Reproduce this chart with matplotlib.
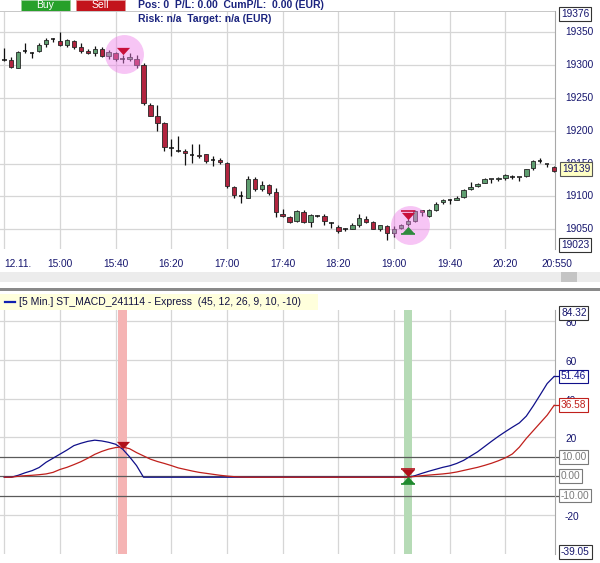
import matplotlib
matplotlib.use('Agg')
import matplotlib.pyplot as plt
from matplotlib.patches import Rectangle

# ---------------- data ----------------
opens  = [19309, 19308, 19296, 19320, 19319, 19321, 19332, 19339, 19336, 19330,
          19336, 19327, 19321, 19318, 19325, 19314, 19319, 19310, 19310, 19310,
          19300, 19240, 19223, 19212, 19174, 19169, 19170, 19163, 19163, 19164,
          19155, 19156, 19151, 19115, 19100, 19098, 19127, 19112, 19117, 19107,
          19074, 19069, 19063, 19077, 19061, 19070, 19071, 19060, 19054, 19050,
          19051, 19056, 19066, 19061, 19050, 19055, 19044, 19052, 19058, 19063,
          19079, 19070, 19079, 19091, 19095, 19095, 19099, 19112, 19116, 19121,
          19126, 19126, 19128, 19130, 19129, 19131, 19144, 19154, 19150, 19145]
highs  = [19326, 19312, 19321, 19333, 19320, 19333, 19341, 19341, 19350, 19340,
          19338, 19333, 19324, 19329, 19328, 19323, 19320, 19315, 19318, 19316,
          19303, 19242, 19239, 19213, 19187, 19192, 19172, 19180, 19180, 19165,
          19161, 19159, 19152, 19116, 19108, 19131, 19130, 19124, 19119, 19113,
          19081, 19071, 19080, 19079, 19073, 19072, 19073, 19061, 19056, 19052,
          19059, 19073, 19071, 19062, 19057, 19056, 19055, 19058, 19066, 19080,
          19080, 19081, 19091, 19096, 19096, 19100, 19112, 19122, 19121, 19128,
          19126, 19129, 19134, 19132, 19129, 19142, 19155, 19159, 19150, 19147]
lows   = [19307, 19295, 19295, 19318, 19311, 19320, 19327, 19335, 19329, 19327,
          19324, 19318, 19317, 19314, 19313, 19309, 19306, 19303, 19306, 19295,
          19239, 19222, 19199, 19169, 19161, 19167, 19148, 19151, 19159, 19151,
          19146, 19150, 19113, 19097, 19090, 19097, 19108, 19108, 19103, 19069,
          19068, 19060, 19061, 19060, 19054, 19068, 19056, 19052, 19045, 19047,
          19050, 19054, 19060, 19050, 19047, 19034, 19039, 19051, 19055, 19061,
          19070, 19068, 19078, 19089, 19088, 19094, 19098, 19110, 19115, 19120,
          19120, 19124, 19125, 19127, 19123, 19129, 19141, 19151, 19145, 19137]
closes = [19308, 19297, 19320, 19321, 19319, 19330, 19339, 19340, 19330, 19339,
          19328, 19321, 19318, 19324, 19314, 19320, 19309, 19310, 19313, 19300,
          19242, 19223, 19212, 19176, 19174, 19169, 19166, 19163, 19161, 19154,
          19155, 19152, 19116, 19102, 19100, 19127, 19112, 19118, 19106, 19077,
          19070, 19061, 19078, 19061, 19072, 19071, 19062, 19060, 19047, 19050,
          19056, 19067, 19061, 19051, 19056, 19044, 19051, 19056, 19062, 19078,
          19076, 19080, 19089, 19094, 19095, 19098, 19110, 19115, 19119, 19127,
          19126, 19128, 19132, 19130, 19129, 19142, 19154, 19154, 19150, 19139]

macd   = [-0.5, -0.5, 0.5, 1.8, 2.9, 4.5, 7.2, 9.3, 11.4, 13.5,
          15.8, 17.0, 18.0, 18.6, 18.2, 17.5, 16.5, 14.0, 10.0, 5.5,
          -0.5, -0.5, -0.5, -0.5, -0.5, -0.5, -0.5, -0.5, -0.5, -0.5,
          -0.5, -0.5, -0.5, -0.5, -0.5, -0.5, -0.5, -0.5, -0.5, -0.5,
          -0.5, -0.5, -0.5, -0.5, -0.5, -0.5, -0.5, -0.5, -0.5, -0.5,
          -0.5, -0.5, -0.5, -0.5, -0.5, -0.5, -0.5, -0.5, -0.5, 0.3,
          1.5, 2.6, 3.6, 4.6, 5.4, 6.6, 8.2, 10.4, 12.6, 15.3,
          18.0, 20.6, 23.0, 25.3, 27.5, 31.0, 36.3, 42.0, 47.8, 51.46]
signal = [-0.5, -0.5, 0.0, 0.3, 0.5, 0.8, 1.2, 2.0, 3.5, 4.6,
          6.0, 7.5, 9.3, 11.3, 12.8, 14.0, 14.8, 15.1, 14.2, 12.2,
          10.5, 8.8, 7.6, 6.6, 5.5, 4.3, 3.5, 2.7, 2.0, 1.5,
          1.0, 0.5, 0.1, -0.2, -0.4, -0.5, -0.5, -0.5, -0.5, -0.5,
          -0.5, -0.5, -0.5, -0.5, -0.5, -0.5, -0.5, -0.5, -0.5, -0.5,
          -0.5, -0.5, -0.5, -0.5, -0.5, -0.5, -0.5, -0.5, -0.5, -0.1,
          0.3, 0.6, 0.9, 1.2, 1.6, 2.2, 3.0, 3.8, 4.6, 5.6,
          6.7, 8.0, 9.5, 11.5, 15.0, 19.5, 23.5, 27.5, 31.5, 36.58]

time_labels = ["12.11.", "15:00", "15:40", "16:20", "17:00", "17:40",
               "18:20", "19:00", "19:40", "20:20"]
last_time_label = "20:550"
price_ticks = [19350, 19300, 19250, 19200, 19150, 19100, 19050]
price_boxes = [19376, 19023]
last_price = 19139
macd_ticks = [80, 60, 40, 20, -20]
macd_range = [84.32, -39.05]
macd_levels = [10, 0, -10]
sell_bar = 17
buy_bar = 58
legend_text = "[5 Min.] ST_MACD_241114 - Express  (45, 12, 26, 9, 10, -10)"
header_1 = "Pos: 0  P/L: 0.00  CumP/L:  0.00 (EUR)"
header_2 = "Risk: n/a  Target: n/a (EUR)"

# ---------------- layout helpers ----------------
W, H = 600, 563
fig = plt.figure(figsize=(6, 5.63), dpi=100)
fig.patch.set_facecolor('white')
FONT = 'Liberation Sans'
NAVY = '#16166e'
GRID = '#d6d6d6'

def fx(px):
    return px / W

def fy(py):
    return 1 - py / H

def add_axes_px(x0, y0, x1, y1):
    return fig.add_axes([fx(x0), fy(y1), (x1 - x0) / W, (y1 - y0) / H])

BAR_PX = 6.96
X0_PX = 4.3
AX_RIGHT = 555
xlim = (-X0_PX / BAR_PX, (AX_RIGHT - X0_PX) / BAR_PX)
n = len(closes)
idx = list(range(n))
tick_idx = [8 * k for k in range(len(time_labels))]

# ---------------- top panel (price) ----------------
top_y0, top_y1 = 11, 249
px_per_pt = 0.6567
ref_y = 32.3  # pixel of 19350
ylim_top = (19350 + (ref_y - top_y0) / px_per_pt,
            19350 - (top_y1 - ref_y) / px_per_pt)
ax = add_axes_px(0, top_y0, AX_RIGHT, top_y1)
ax.set_xlim(*xlim)
ax.set_ylim(ylim_top[1], ylim_top[0])
ax.set_facecolor('white')
for s in ['top', 'left', 'bottom']:
    ax.spines[s].set_visible(False)
ax.spines['right'].set_color('#a8a8a8')
ax.set_xticks([])
ax.set_yticks([])
for v in price_ticks:
    ax.axhline(v, color=GRID, lw=0.9, zorder=0)
for t in tick_idx:
    ax.axvline(t, color=GRID, lw=0.9, zorder=0)

def price_to_py(v):
    return ref_y + (19350 - v) * px_per_pt

# candles
bw = 0.64
for i in idx:
    o, h, l, c = opens[i], highs[i], lows[i], closes[i]
    ax.vlines(i, l, h, color='#111111', lw=0.9, zorder=3)
    if abs(c - o) < 1.5:
        ax.hlines(c, i - bw / 2, i + bw / 2, color='#111111', lw=1.1, zorder=4)
    else:
        col = '#5f9e70' if c > o else '#b1243f'
        ax.bar(i, abs(c - o), bottom=min(o, c), width=bw, color=col,
               edgecolor='#262626', linewidth=0.6, zorder=4, clip_on=False)

down_tri = [(-1, 0.55), (1, 0.55), (0, -0.55), (-1, 0.55)]
up_tri = [(-1, -0.55), (1, -0.55), (0, 0.55), (-1, -0.55)]

# highlight circles
circ_sell = (sell_bar + 0.2, 19317.5)
circ_buy = (buy_bar + 0.3, 19057)
for cx, cy in [circ_sell, circ_buy]:
    ax.plot(cx, cy, 'o', ms=28, color='#ee7fe9', alpha=0.45, mec='none', zorder=5)
ax.plot(sell_bar, 19322, marker=down_tri, ms=9.5, color='#c8103a', mec='none', zorder=6)
ax.plot(buy_bar, 19071, marker=down_tri, ms=9.5, color='#c8103a', mec='none', zorder=6)
ax.plot(buy_bar, 19077.5, marker='_', ms=9.5, mew=1.2, color='#c8103a', zorder=6)
ax.plot(buy_bar, 19049, marker=up_tri, ms=9.5, color='#2f8a3e', mec='none', zorder=6)
ax.plot(buy_bar, 19043.5, marker='_', ms=9.5, mew=1.2, color='#2f8a3e', zorder=6)

# top right labels
for v in price_ticks:
    fig.text(fx(565), fy(price_to_py(v)), f"{v}", ha='left', va='center',
             fontsize=7.3, color=NAVY, family=FONT)
box_white = dict(boxstyle='square,pad=0.18', fc='white', ec='#333333', lw=0.8)
fig.text(fx(561), fy(13.7), f"{price_boxes[0]}", ha='left', va='center',
         fontsize=7.3, color=NAVY, family=FONT, bbox=box_white)
fig.text(fx(561), fy(245.3), f"{price_boxes[1]}", ha='left', va='center',
         fontsize=7.3, color=NAVY, family=FONT, bbox=box_white)
fig.text(fx(562), fy(168.7), f"{last_price}", ha='left', va='center',
         fontsize=7.3, color=NAVY, family=FONT,
         bbox=dict(boxstyle='square,pad=0.18', fc='#ffffc4', ec='#555555', lw=0.8),
         zorder=10)

# x labels
for k, (t, lab) in enumerate(zip(tick_idx, time_labels)):
    pxx = X0_PX + t * BAR_PX
    if k == 0:
        fig.text(fx(pxx), fy(264), lab, ha='left', va='center', fontsize=7.3,
                 color=NAVY, family=FONT)
    else:
        fig.text(fx(pxx), fy(264), lab, ha='center', va='center', fontsize=7.3,
                 color=NAVY, family=FONT)
fig.text(fx(541.5), fy(264), last_time_label, ha='left', va='center', fontsize=7.3,
         color=NAVY, family=FONT)

# header: buttons & text
fig.patches.append(Rectangle((fx(20.5), fy(11)), 49 / W, 11 / H, transform=fig.transFigure,
                             fc='#27a02a', ec='#9ad09a', lw=0.6))
fig.patches.append(Rectangle((fx(76), fy(11)), 48.5 / W, 11 / H, transform=fig.transFigure,
                             fc='#c3141c', ec='#e09090', lw=0.6))
fig.text(fx(45), fy(5.3), "Buy", ha='center', va='center', fontsize=7.5,
         color='white', family=FONT)
fig.text(fx(100), fy(5.3), "Sell", ha='center', va='center', fontsize=7.5,
         color='white', family=FONT)
fig.text(fx(138), fy(5.5), header_1, ha='left', va='center', fontsize=7.5,
         color='#1a237e', family=FONT, weight='bold')
fig.text(fx(138), fy(19.5), header_2, ha='left', va='center', fontsize=7.5,
         color='#1a237e', family=FONT, weight='bold')

# separators
fig.patches.append(Rectangle((0, fy(11.5)), AX_RIGHT / W, 0.6 / H, transform=fig.transFigure,
                             fc='#c8c8c8', ec='none'))
fig.patches.append(Rectangle((0, fy(282)), 1, 10 / H, transform=fig.transFigure,
                             fc='#ececec', ec='none'))
fig.patches.append(Rectangle((fx(561), fy(282)), 16 / W, 10 / H, transform=fig.transFigure,
                             fc='#c4c4c4', ec='none'))
fig.patches.append(Rectangle((0, fy(291)), 1, 3 / H, transform=fig.transFigure,
                             fc='#8a8a8a', ec='none'))

# ---------------- bottom panel (MACD) ----------------
bot_y0, bot_y1 = 310, 554
m_top_py, m_bot_py = 312.7, 552.0
m_scale = (m_bot_py - m_top_py) / (macd_range[0] - macd_range[1])
ylim_bot = (macd_range[0] + (m_top_py - bot_y0) / m_scale,
            macd_range[1] - (bot_y1 - m_bot_py) / m_scale)
ax2 = add_axes_px(0, bot_y0, AX_RIGHT, bot_y1)
ax2.set_xlim(*xlim)
ax2.set_ylim(ylim_bot[1], ylim_bot[0])
ax2.set_facecolor('white')
for s in ['top', 'left', 'bottom']:
    ax2.spines[s].set_visible(False)
ax2.spines['right'].set_color('#a8a8a8')
ax2.set_xticks([])
ax2.set_yticks([])
for v in macd_ticks:
    ax2.axhline(v, color=GRID, lw=0.9, zorder=0)
for t in tick_idx:
    ax2.axvline(t, color=GRID, lw=0.9, zorder=0)
for v in macd_levels:
    ax2.plot([xlim[0], xlim[1] + 0.8], [v, v], color='#5a5a5a', lw=0.9, zorder=1,
             clip_on=False)
ax2.axvspan(sell_bar - 0.6, sell_bar + 0.6, color='#f5b4b4', lw=0, zorder=0.5)
ax2.axvspan(buy_bar - 0.6, buy_bar + 0.6, color='#b6dbb6', lw=0, zorder=0.5)

ax2.plot(idx, macd, color='#10108a', lw=0.9, zorder=3)
ax2.plot([n - 1, n - 0.2], [macd[-1], macd[-1]], color='#10108a', lw=0.9, zorder=3,
         clip_on=False)
ax2.plot(idx, signal, color='#c0201c', lw=0.9, zorder=4)
ax2.plot([n - 1, n - 0.2], [signal[-1], signal[-1]], color='#c0201c', lw=0.9, zorder=4,
         clip_on=False)

ax2.plot(sell_bar, 16.2, marker=down_tri, ms=9.5, color='#b0101a', mec='none', zorder=6)
ax2.plot(buy_bar, 1.9, marker=down_tri, ms=9.5, color='#b0101a', mec='none', zorder=6)
ax2.plot(buy_bar, 3.8, marker='_', ms=9.5, mew=1.2, color='#b0101a', zorder=6)
ax2.plot(buy_bar, -2.1, marker=up_tri, ms=9.5, color='#1f8a2e', mec='none', zorder=6)
ax2.plot(buy_bar, -4.1, marker='_', ms=9.5, mew=1.2, color='#1f8a2e', zorder=6)

def macd_to_py(v):
    return m_top_py + (macd_range[0] - v) * m_scale

for v in macd_ticks:
    fig.text(fx(565), fy(macd_to_py(v) + 2), f"{v}", ha='left', va='center',
             fontsize=7.3, color=NAVY, family=FONT)
fig.text(fx(561), fy(macd_to_py(macd_range[0])), f"{macd_range[0]:.2f}", ha='left',
         va='center', fontsize=7.3, color=NAVY, family=FONT, bbox=box_white, zorder=10)
fig.text(fx(561), fy(macd_to_py(macd_range[1])), f"{macd_range[1]:.2f}", ha='left',
         va='center', fontsize=7.3, color=NAVY, family=FONT, bbox=box_white, zorder=10)
fig.text(fx(561), fy(macd_to_py(macd[-1])), f"{macd[-1]:.2f}", ha='left', va='center',
         fontsize=7.3, color='#10108a', family=FONT, zorder=10,
         bbox=dict(boxstyle='square,pad=0.18', fc='white', ec='#10108a', lw=0.8))
fig.text(fx(561), fy(macd_to_py(signal[-1])), f"{signal[-1]:.2f}", ha='left', va='center',
         fontsize=7.3, color='#c0201c', family=FONT, zorder=10,
         bbox=dict(boxstyle='square,pad=0.18', fc='white', ec='#c0201c', lw=0.8))
for v in macd_levels:
    fig.text(fx(561), fy(macd_to_py(v)), f"{v:.2f}", ha='left', va='center',
             fontsize=7.3, color='#7a7a7a', family=FONT, zorder=10,
             bbox=dict(boxstyle='square,pad=0.18', fc='white', ec='#7a7a7a', lw=0.8))

# legend strip
fig.patches.append(Rectangle((0, fy(310)), 318 / W, 16 / H, transform=fig.transFigure,
                             fc='#ffffdc', ec='none'))
fig.lines.append(plt.Line2D([fx(5), fx(15)], [fy(302), fy(302)], transform=fig.transFigure,
                            color='#1020b0', lw=1.6))
fig.text(fx(19), fy(302), legend_text, ha='left', va='center', fontsize=7.5,
         color='#101040', family=FONT)

fig.savefig('out.png', dpi=100, facecolor='white')
